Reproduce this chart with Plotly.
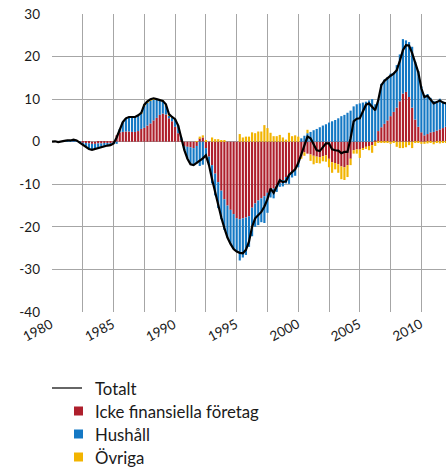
import plotly.graph_objects as go

# Quarterly data, 1980Q1 .. 2012Q1 (percent of GDP)
years = list(range(1980, 2013))
quarter_pos = [y + q / 4 for y in years for q in range(4)][:129]

totalt = [
    0.0, 0.1, -0.1, 0.1,
    0.2, 0.3, 0.3, 0.5,
    0.3, -0.2, -0.7, -1.2,
    -1.7, -1.9, -1.7, -1.4,
    -1.2, -1.0, -0.9, -0.8,
    -0.4, 1.0, 3.0, 4.6,
    5.5, 5.8, 5.8, 5.8,
    6.2, 6.8, 8.7, 9.5,
    10.0, 10.2, 10.0, 9.8,
    9.6, 8.8, 6.5, 5.8,
    5.3, 3.8, 1.0, -2.0,
    -4.0, -5.3, -5.5, -5.0,
    -4.5, -3.9, -3.2, -5.5,
    -8.8, -12.0, -15.0, -17.8,
    -20.3, -22.5, -24.0, -25.2,
    -25.8, -26.1, -26.2, -25.4,
    -23.5, -20.0, -18.0, -17.2,
    -16.5, -15.2, -13.5, -11.0,
    -12.0, -10.5, -9.0, -9.5,
    -9.3, -7.8, -7.1, -6.5,
    -5.0, -3.0, -0.6, 1.2,
    0.8, -0.6, -2.0, -2.2,
    -1.2, -0.4, -0.4, -1.8,
    -2.0, -2.1, -2.7, -2.4,
    -2.4, 0.8, 4.8, 5.4,
    5.5, 7.0, 8.7, 9.0,
    8.3, 7.4, 9.8, 13.3,
    14.3, 15.0, 15.5, 16.0,
    16.8, 19.0, 21.5, 22.7,
    22.6, 20.8, 18.5, 16.3,
    12.5, 10.5, 10.8, 10.0,
    9.0, 9.3, 9.7, 9.2,
    9.0,
]

icke_finansiella = [
    0.0, 0.0, 0.0, 0.0,
    0.0, 0.0, 0.0, 0.1,
    0.0, 0.0, -0.2, -0.3,
    -0.4, -0.5, -0.5, -0.4,
    -0.4, -0.3, -0.3, -0.3,
    -0.1, 1.5, 2.2, 2.3,
    2.4, 2.4, 2.3, 2.3,
    2.5, 3.0, 3.3, 3.8,
    4.3, 5.0, 5.6, 6.3,
    6.6, 6.4, 5.5, 4.8,
    3.5, 2.0, 0.6, -1.0,
    -1.2, -1.3, -1.5, -1.0,
    0.8, 1.0, -1.5, -3.5,
    -5.5, -7.5, -9.5, -11.5,
    -13.5, -15.0, -16.0, -17.0,
    -18.0, -18.2, -18.0, -17.8,
    -17.5, -15.5, -14.5, -13.8,
    -13.3, -12.8, -12.0, -11.5,
    -11.0, -10.3, -9.7, -9.0,
    -8.3, -7.8, -7.2, -6.6,
    -5.0, -3.5, -2.5, -2.8,
    -3.0, -3.3, -3.5, -3.6,
    -3.4, -3.2, -4.0, -4.8,
    -5.0, -5.3, -5.8, -6.0,
    -5.5, -4.0, -2.0, -1.8,
    -1.8, -1.5, -1.2, -1.0,
    -0.8, 0.3, 2.5, 3.4,
    4.2, 5.0, 6.0, 7.0,
    8.0, 9.5, 11.3, 11.7,
    10.5, 8.0, 5.2, 3.5,
    2.2, 1.5, 1.8, 2.2,
    2.3, 2.6, 2.9, 3.2,
    3.5,
]

hushall = [
    0.0, 0.1, -0.1, 0.1,
    0.2, 0.3, 0.3, 0.4,
    0.3, -0.2, -0.5, -0.9,
    -1.3, -1.4, -1.2, -1.0,
    -0.8, -0.7, -0.6, -0.5,
    -0.3, -0.5, 0.8, 2.3,
    3.1, 3.4, 3.5, 3.5,
    3.7, 3.7, 5.1, 5.4,
    5.4, 5.0, 4.2, 3.4,
    2.9, 2.2, 0.7, 0.9,
    1.7, 1.8, 0.4, -1.0,
    -2.8, -4.0, -4.0, -4.1,
    -5.7, -5.4, -1.9, -2.0,
    -4.3, -5.1, -6.1, -6.7,
    -7.2, -7.5, -8.0, -8.2,
    -7.8, -9.7, -9.2, -8.8,
    -7.2, -6.7, -5.5, -5.8,
    -5.6, -6.3, -4.7, -1.6,
    -2.3, -1.5, -0.9, -1.5,
    -1.5, -2.1, -1.2, -1.4,
    -1.0, 0.8, 1.4, 2.0,
    2.3, 2.7, 3.0, 3.4,
    3.8, 4.1, 4.5, 4.8,
    5.1, 5.5, 6.0, 6.3,
    6.8, 7.3, 8.3, 8.8,
    9.0, 9.2, 9.4, 9.7,
    10.0, 8.5, 7.5, 10.2,
    10.4, 10.2, 10.0, 9.2,
    10.0, 11.0, 12.8, 12.1,
    12.9, 14.3, 13.6, 13.1,
    10.8, 9.5, 9.4, 8.1,
    7.3, 7.0, 7.2, 6.2,
    5.7,
]

ovriga = [
    0.0, 0.0, 0.0, 0.0,
    0.0, 0.0, 0.0, 0.0,
    0.0, 0.0, 0.0, 0.0,
    0.0, 0.0, 0.0, 0.0,
    0.0, 0.0, 0.0, 0.0,
    0.0, 0.0, 0.0, 0.0,
    0.0, 0.0, 0.0, 0.0,
    0.0, 0.1, 0.3, 0.3,
    0.3, 0.2, 0.2, 0.1,
    0.1, 0.2, 0.3, 0.1,
    0.1, 0.0, 0.0, 0.0,
    0.0, 0.0, 0.0, 0.1,
    0.4, 0.5, 0.2, 0.0,
    1.0, 0.6, 0.6, 0.4,
    0.4, 0.0, 0.0, 0.0,
    0.0, 1.8, 1.0, 1.2,
    1.2, 2.2, 2.0, 2.4,
    2.4, 3.9, 3.2, 2.1,
    1.3, 1.3, 1.6, 1.0,
    0.5, 2.1, 1.3, 1.5,
    1.2, -0.5, -0.8, 0.8,
    -1.5, -2.0, -1.5, -1.5,
    -1.2, -1.5, -2.0, -2.5,
    -1.5, -2.0, -3.0, -3.0,
    -2.8, -1.5, -0.8, -1.0,
    -2.0, -0.3, -0.5, -1.0,
    -1.8, -1.0, -0.2, -0.3,
    -0.3, -0.2, -0.5, -0.2,
    -1.2, -1.5, -1.5, -1.3,
    -0.8, -1.5, -0.3, -0.3,
    -0.5, -0.5, -0.4, -0.3,
    -0.6, -0.3, -0.4, -0.2,
    -0.2,
]

y_ticks = [30, 20, 10, 0, -10, -20, -30, -40]
y_ticktext = ["30", "20", "10", "0", "-10", "-20", "-30", "-40"]
x_grid = [1980, 1982.5, 1985, 1987.5, 1990, 1992.5, 1995, 1997.5,
          2000, 2002.5, 2005, 2007.5, 2010]
x_label_years = [1980, 1985, 1990, 1995, 2000, 2005, 2010]
x_label_text = ["1980", "1985", "1990", "1995", "2000", "2005", "2010"]

legend_names = ["Totalt", "Icke finansiella företag", "Hushåll", "Övriga"]

RED = "#AE1F2C"
BLUE = "#1478C4"
YELLOW = "#F2B400"
FONT = "Lato"
TEXT = "#1a1a1a"

# figure geometry (px)
W, H = 446, 470
ML, MR, MT, MB = 52, 0, 14, 158
PW, PH = W - ML - MR, H - MT - MB


def px_x(px):
    return (px - ML) / PW


def px_y(py):
    return (H - MB - py) / PH


fig = go.Figure()
fig.add_trace(go.Scatter(
    x=quarter_pos, y=totalt, mode="lines", name=legend_names[0],
    line=dict(color="#000000", width=2.2),
))
fig.add_trace(go.Bar(x=quarter_pos, y=icke_finansiella, name=legend_names[1],
                     marker=dict(color=RED, line_width=0)))
fig.add_trace(go.Bar(x=quarter_pos, y=hushall, name=legend_names[2],
                     marker=dict(color=BLUE, line_width=0)))
fig.add_trace(go.Bar(x=quarter_pos, y=ovriga, name=legend_names[3],
                     marker=dict(color=YELLOW, line_width=0)))

# Legend drawn below the plot
legend_rows_py = [388, 411, 434, 457]
shapes = [dict(type="line", xref="paper", yref="paper",
               x0=px_x(52), x1=px_x(82),
               y0=px_y(legend_rows_py[0]), y1=px_y(legend_rows_py[0]),
               line=dict(color="#333333", width=1.5))]
for py, col in zip(legend_rows_py[1:], [RED, BLUE, YELLOW]):
    shapes.append(dict(type="rect", xref="paper", yref="paper",
                       x0=px_x(74), x1=px_x(83),
                       y0=px_y(py + 4.5), y1=px_y(py - 4.5),
                       fillcolor=col, line_width=0))
annotations = []
for py, name in zip(legend_rows_py, legend_names):
    annotations.append(dict(
        text=name, xref="paper", yref="paper", x=px_x(93), y=px_y(py),
        xanchor="left", yanchor="middle", showarrow=False,
        font=dict(family=FONT, size=16.8, color=TEXT),
    ))

# Rotated year labels under the x axis (positioned on the x scale)
for yr, txt in zip(x_label_years, x_label_text):
    annotations.append(dict(
        text=txt, xref="x", yref="paper", x=yr, y=px_y(313),
        xanchor="right", yanchor="top", xshift=6, textangle=-28,
        showarrow=False, font=dict(family=FONT, size=13.5, color=TEXT),
    ))

fig.update_layout(
    width=W, height=H,
    margin=dict(l=ML, r=MR, t=MT, b=MB),
    barmode="relative", bargap=0.3,
    plot_bgcolor="white", paper_bgcolor="white",
    font=dict(family=FONT, size=13, color=TEXT),
    showlegend=False,
    shapes=shapes, annotations=annotations,
    xaxis=dict(
        range=[1980, 2012], tickmode="array", tickvals=x_grid,
        showticklabels=False, showgrid=True,
        gridcolor="#a6a6a6", gridwidth=1, zeroline=False,
        showline=False, ticks="",
    ),
    yaxis=dict(
        range=[-40, 30], tickmode="array", tickvals=y_ticks,
        ticktext=y_ticktext, showgrid=True, gridcolor="#a6a6a6",
        gridwidth=1, zeroline=True, zerolinecolor="#a6a6a6",
        zerolinewidth=1, showline=False, ticks="",
        ticklabelstandoff=11, tickfont=dict(size=13.5),
    ),
)

fig.write_html(
    "out.html",
    config={"displayModeBar": False},
    post_script="document.body.style.margin='0';document.body.style.overflow='hidden';",
)
